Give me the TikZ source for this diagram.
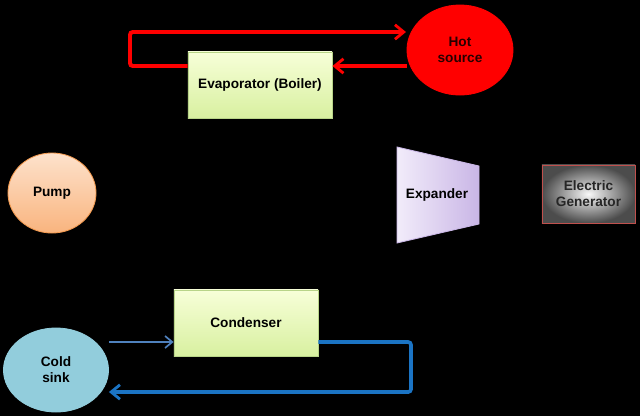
\documentclass[tikz,border=0pt]{standalone}
\usepackage{fontspec}
\setmainfont{Liberation Sans}
\usetikzlibrary{shapes.geometric,arrows.meta}

\definecolor{evaptop}{HTML}{F7FFD8}
\definecolor{evapbot}{HTML}{D8F0A0}
\definecolor{evapline}{HTML}{B8D488}
\definecolor{pumptop}{HTML}{FDE2CC}
\definecolor{pumpbot}{HTML}{F9B47E}
\definecolor{pumpline}{HTML}{F39A50}
\definecolor{explight}{HTML}{F2ECFA}
\definecolor{expdark}{HTML}{C9B6E6}
\definecolor{genline}{HTML}{C0504D}
\definecolor{coldfill}{HTML}{92CDDC}
\definecolor{thinblue}{HTML}{4F81BD}
\definecolor{thickblue}{HTML}{1B74C4}

\begin{document}
\begin{tikzpicture}[x=0.025cm,y=-0.025cm,
  label/.style={font=\bfseries\fontsize{9.7}{11.5}\selectfont,align=center},
  box/.style={label,draw,rectangle,line width=0.6pt},
  blob/.style={label,draw,ellipse,inner sep=0pt,line width=0.6pt},
  tip/.style={-{Straight Barb[length=2.2mm,width=3.6mm,line width=2pt]}},
  redflow/.style={draw=red,line width=2.8pt,rounded corners=2pt},
  coldflow/.style={draw=thickblue,line width=2.6pt,rounded corners=2pt},
  thinflow/.style={draw=thinblue,line width=1.5pt}]

  \fill[black] (0,0) rectangle (640,416);
  \useasboundingbox (0,0) rectangle (640,416);

  % Hot side
  \node[blob,fill=red,draw=red,text=black!85!red,minimum width=2.65cm,minimum height=2.25cm]
    (hot) at (460,50) {Hot\\source};
  \node[box,top color=evaptop,bottom color=evapbot,draw=evapline,minimum width=3.6cm,minimum height=1.65cm]
    (evap) at (260,85) {Evaporator (Boiler)};
  \draw[redflow,tip] (evap.west |- 0,66) -| (130,32) -- (406,32);
  \draw[redflow,tip] (hot.west |- 0,66) -- (evap.east |- 0,66);

  % Pump
  \node[blob,top color=pumptop,bottom color=pumpbot,draw=pumpline,minimum width=2.2cm,minimum height=2cm]
    (pump) at (52,193) {Pump};

  % Expander and generator
  \shade[left color=explight,right color=expdark,draw=expdark,line width=0.6pt]
    (397,147) -- (479,166) -- (479,224) -- (397,243) -- cycle;
  \node[label] (exp) at (437,195) {Expander};
  \node[box,inner color=gray!5,outer color=black!70,draw=genline,text=black!85,minimum width=2.325cm,minimum height=1.45cm]
    (gen) at (588.5,194) {Electric\\Generator};

  % Cold side
  \node[box,top color=evaptop,bottom color=evapbot,draw=evapline,minimum width=3.6cm,minimum height=1.65cm]
    (cond) at (246,323) {Condenser};
  \node[blob,fill=coldfill,draw=coldfill,minimum width=2.625cm,minimum height=2.1cm]
    (cold) at (56,370) {Cold\\sink};
  \draw[thinflow,-{Straight Barb[length=1.8mm,width=3mm,line width=1.2pt]}]
    (cold.east |- 0,342) -- (cond.west |- 0,342);
  \draw[coldflow,tip] (cond.east |- 0,342) -| (411,392) -- (cold.east |- 0,392);
\end{tikzpicture}
\end{document}
